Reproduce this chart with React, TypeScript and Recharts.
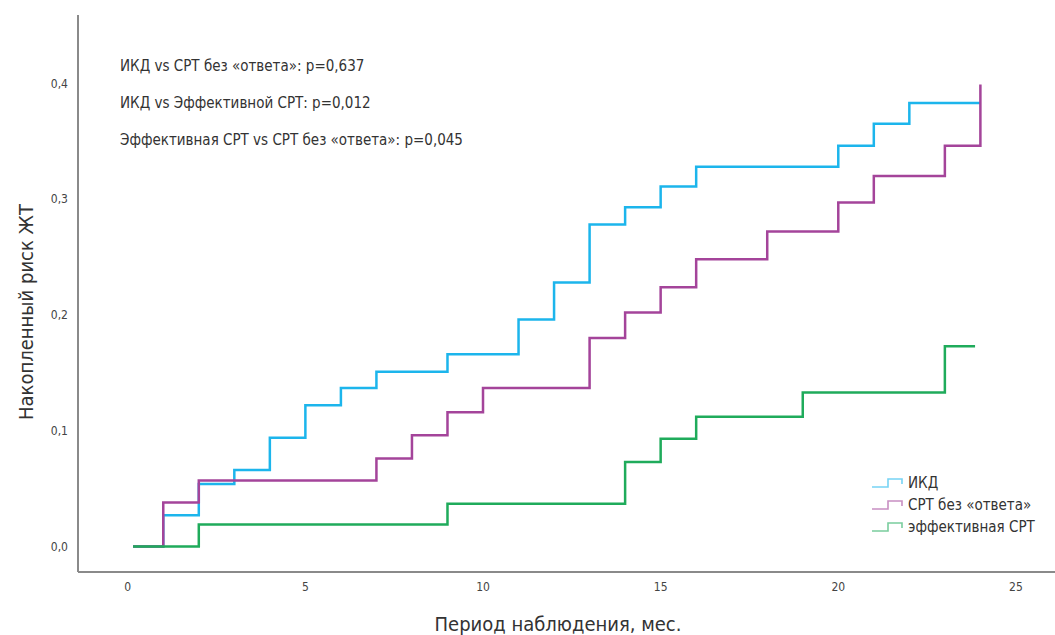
import { LineChart, Line, XAxis, YAxis } from "recharts";

const icdX = [0.15, 1, 2, 3, 4, 5, 6, 7, 9, 11, 12, 13, 14, 15, 16, 20, 21, 22, 24];
const icdY = [0, 0.027, 0.054, 0.066, 0.094, 0.122, 0.137, 0.151, 0.166, 0.196, 0.228, 0.278, 0.293, 0.311, 0.328, 0.346, 0.365, 0.383, 0.383];

const nonRespX = [0.15, 1, 2, 7, 8, 9, 10, 13, 14, 15, 16, 18, 20, 21, 23, 24];
const nonRespY = [0, 0.038, 0.057, 0.076, 0.096, 0.116, 0.137, 0.18, 0.202, 0.224, 0.248, 0.272, 0.297, 0.32, 0.346, 0.399];

const effX = [0.15, 2, 9, 14, 15, 16, 19, 23, 23.85];
const effY = [0, 0.019, 0.037, 0.073, 0.093, 0.112, 0.133, 0.173, 0.173];

const xTicks = [0, 5, 10, 15, 20, 25];
const yTicks = [0, 0.1, 0.2, 0.3, 0.4];

const pValues = [
  "ИКД vs СРТ без «ответа»: p=0,637",
  "ИКД vs Эффективной СРТ: p=0,012",
  "Эффективная СРТ vs СРТ без «ответа»: p=0,045",
];

const series = [
  { name: "ИКД", color: "#1cb5ec", xs: icdX, ys: icdY },
  { name: "СРТ без «ответа»", color: "#a4449a", xs: nonRespX, ys: nonRespY },
  { name: "эффективная СРТ", color: "#1fab5b", xs: effX, ys: effY },
];

const font = "'Liberation Sans Narrow', 'DejaVu Sans Condensed', 'Roboto Condensed', sans-serif";

const toPoints = (xs: number[], ys: number[]) => xs.map((x, i) => ({ x, y: ys[i] }));

function StepLegend() {
  return (
    <div style={{ position: "absolute", left: 871, top: 472, fontFamily: font, fontSize: 15, color: "#333" }}>
      {series.map((s) => (
        <div key={s.name} style={{ display: "flex", alignItems: "center", height: 22 }}>
          <svg width={34} height={14} style={{ marginRight: 3 }}>
            <path d="M1,11 H17 V3 H31 V8" fill="none" stroke={s.color} strokeOpacity={0.6} strokeWidth={1.6} />
          </svg>
          <span>{s.name}</span>
        </div>
      ))}
    </div>
  );
}

export default function App() {
  return (
    <div style={{ position: "relative", width: 1055, height: 635, background: "#fff" }}>
      <style>{"body{margin:0}"}</style>
      <LineChart width={1055} height={635} margin={{ top: 15, right: 0, bottom: 33, left: 0 }}>
        <XAxis
          type="number"
          dataKey="x"
          domain={[-1.4, 26.1]}
          ticks={xTicks}
          allowDuplicatedCategory={false}
          height={30}
          tickLine={false}
          tickSize={8}
          axisLine={{ stroke: "#8a8a8a", strokeWidth: 2 }}
          tick={{ fontSize: 12, fill: "#444", fontFamily: font }}
        />
        <YAxis
          type="number"
          domain={[-0.022, 0.459]}
          ticks={yTicks}
          width={78}
          tickLine={false}
          tickSize={8}
          axisLine={{ stroke: "#8a8a8a", strokeWidth: 2 }}
          tickFormatter={(v: number) => v.toFixed(1).replace(".", ",")}
          tick={{ fontSize: 12, fill: "#444", fontFamily: font }}
        />
        {series.map((s) => (
          <Line
            key={s.name}
            data={toPoints(s.xs, s.ys)}
            dataKey="y"
            name={s.name}
            type="stepAfter"
            stroke={s.color}
            strokeWidth={2.5}
            dot={false}
            isAnimationActive={false}
          />
        ))}
      </LineChart>
      <StepLegend />
      <div style={{ position: "absolute", left: 120, top: 48, fontFamily: font, fontSize: 15, color: "#333", lineHeight: "37px" }}>
        {pValues.map((t) => (
          <div key={t}>{t}</div>
        ))}
      </div>
      <div
        style={{
          position: "absolute",
          left: 558,
          top: 624,
          transform: "translate(-50%, -50%)",
          fontFamily: font,
          fontSize: 20,
          color: "#333",
          whiteSpace: "nowrap",
        }}
      >
        Период наблюдения, мес.
      </div>
      <div
        style={{
          position: "absolute",
          left: 26,
          top: 312,
          transform: "translate(-50%, -50%) rotate(-90deg)",
          fontFamily: font,
          fontSize: 20,
          color: "#333",
          whiteSpace: "nowrap",
        }}
      >
        Накопленный риск ЖТ
      </div>
    </div>
  );
}
